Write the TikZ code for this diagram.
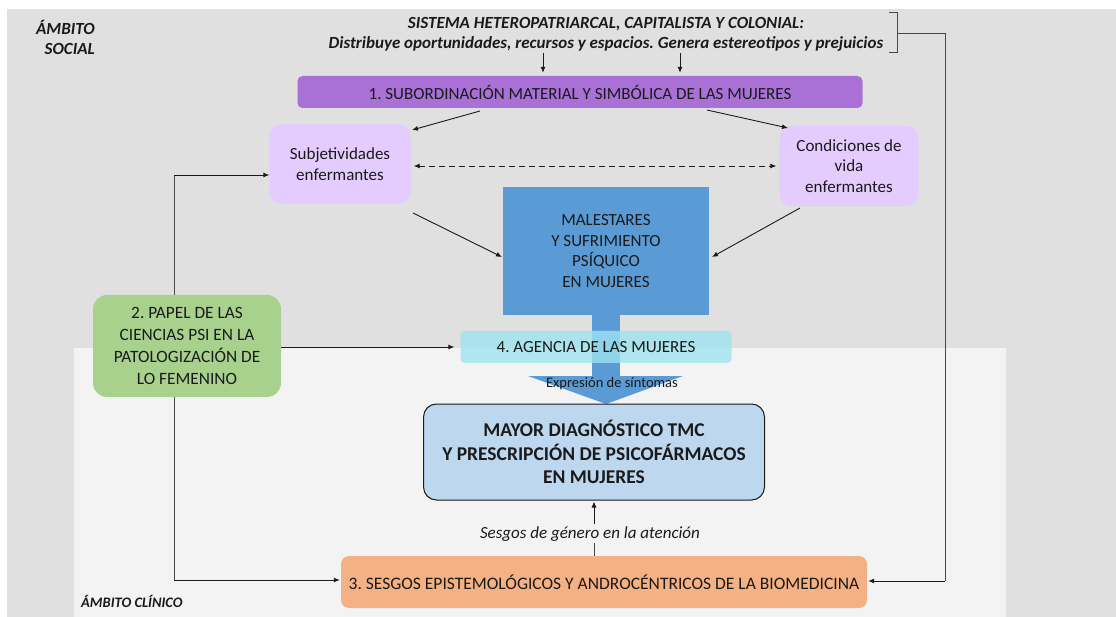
\documentclass[tikz,border=0pt]{standalone}
\usepackage{fontspec}
\setmainfont{Carlito}
\usetikzlibrary{arrows.meta,calc}
\definecolor{bgsoc}{HTML}{E0E0E0}
\definecolor{bgcli}{HTML}{F3F3F3}
\definecolor{cpurple}{HTML}{A970D6}
\definecolor{clav}{HTML}{E5CCFF}
\definecolor{cblue}{HTML}{5B9BD5}
\definecolor{ccyan}{HTML}{9EE3EE}
\definecolor{cgreen}{HTML}{A9D18E}
\definecolor{clblue}{HTML}{BDD7EE}
\definecolor{corange}{HTML}{F4B183}
\definecolor{ink}{HTML}{1A1A1A}
\tikzset{
  box/.style={inner sep=0pt, align=center, text=ink},
  arr/.style={draw=ink, line width=0.9pt, -{Latex[length=6pt,width=5pt]}},
  ln/.style={draw=ink!80, line width=0.8pt},
}
\begin{document}
\frenchspacing
\begin{tikzpicture}[x=1pt,y=-1pt]
\useasboundingbox (0,0) rectangle (1116,617);
\fill[white] (0,0) rectangle (1116,617);
\fill[bgsoc] (7,9) rectangle (1116,617);
\fill[bgcli] (74,348) rectangle (1006,617);

% labels of areas
\node[box, align=right, anchor=east, font=\fontsize{17}{20}\selectfont\bfseries\itshape] (soc) at (95,37) {ÁMBITO\\SOCIAL};
\node[box, anchor=west, font=\fontsize{14.5}{16}\selectfont\bfseries\itshape] (cli) at (81,601) {ÁMBITO CLÍNICO};

% top text
\node[box, font=\fontsize{17}{20}\selectfont\bfseries\itshape] (sys) at (606,34) {SISTEMA HETEROPATRIARCAL, CAPITALISTA Y COLONIAL:\\Distribuye oportunidades, recursos y espacios. Genera estereotipos y prejuicios};
\draw[ln] (889,12) -- (897,12) -- (897,52) -- (889,52);
\coordinate (br) at (897,33);

% nodes
\node[box, fill=cpurple, rounded corners=5pt, minimum width=565pt, minimum height=32pt, font=\fontsize{17}{20}\selectfont] (sub) at (580,92) {1. SUBORDINACIÓN MATERIAL Y SIMBÓLICA DE LAS MUJERES};
\node[box, fill=clav, rounded corners=12pt, minimum width=141pt, minimum height=80pt, font=\fontsize{17}{21}\selectfont] (subj) at (340,164) {Subjetividades\\enfermantes};
\node[box, fill=clav, rounded corners=12pt, minimum width=139pt, minimum height=80pt, font=\fontsize{17}{20.5}\selectfont] (cond) at (849,166) {Condiciones de\\vida\\enfermantes};

% big arrow stem and head
\fill[cblue] (503,187) rectangle (709,315);
\fill[cblue] (592,314) rectangle (620,377);
\fill[cblue] (528,376) -- (683,376) -- (606,404) -- cycle;
\node[box, font=\fontsize{17}{20.5}\selectfont] (male) at (606,251) {MALESTARES\\Y SUFRIMIENTO\\PSÍQUICO\\EN MUJERES};
\node[box, fill=ccyan, fill opacity=0.8, text opacity=1, rounded corners=4pt, minimum width=271pt, minimum height=32pt, font=\fontsize{17}{20}\selectfont] (age) at (596,347) {4. AGENCIA DE LAS MUJERES};
\node[box, font=\fontsize{14.5}{16}\selectfont] (expr) at (612,384) {Expresión de síntomas};

\node[box, fill=clblue, draw=ink, line width=1pt, rounded corners=13pt, minimum width=341pt, minimum height=96pt, font=\fontsize{19.5}{23.5}\selectfont\bfseries] (diag) at (594,452) {MAYOR DIAGNÓSTICO TMC\\Y PRESCRIPCIÓN DE PSICOFÁRMACOS\\EN MUJERES};

\node[box, font=\fontsize{17}{20}\selectfont\itshape] (ses) at (590,534) {Sesgos de género en la atención};
\node[box, fill=corange, rounded corners=8pt, minimum width=526pt, minimum height=52pt, font=\fontsize{17.5}{20}\selectfont] (ori) at (604,582) {3. SESGOS EPISTEMOLÓGICOS Y ANDROCÉNTRICOS DE LA BIOMEDICINA};

% left connector (drawn before green box)
\coordinate (lt) at (174,175);
\coordinate (lb) at (174,580);
\draw[ln] (lt) -- (lb);
\draw[arr] (lt) -- (subj.west |- lt);
\draw[arr] (lb) -- ($(ori.west |- lb)+(-1,0)$);

\node[box, fill=cgreen, rounded corners=14pt, minimum width=188pt, minimum height=102pt, font=\fontsize{17.3}{22}\selectfont] (psi) at (187,346) {2. PAPEL DE LAS\\CIENCIAS PSI EN LA\\PATOLOGIZACIÓN DE\\LO FEMENINO};

% connectors
\coordinate (a1) at (543,0);
\coordinate (a2) at (680,0);
\draw[arr] ($(sys.south -| a1)+(0,2)$) -- ($(sub.north -| a1)+(0,-3)$);
\draw[arr] ($(sys.south -| a2)+(0,2)$) -- ($(sub.north -| a2)+(0,-3)$);

\coordinate (s1) at (480,111);
\coordinate (s2) at (707,110);
\draw[arr] (s1) -- (412,130);
\draw[arr] (s2) -- (788,128);
\draw[arr, dashed, dash pattern=on 6pt off 4pt, {Latex[length=6pt,width=5pt]}-{Latex[length=6pt,width=5pt]}] (subj.east |- 0,166) ++(3,0) -- ($(cond.west |- 0,166)+(-3,0)$);

\draw[arr] (413,213) -- (502,257);
\draw[arr] (800,208) -- (712,257);

\draw[arr] (psi.east |- 0,347) -- ($(age.west |- 0,347)+(-6,0)$);

\coordinate (vx) at (594,0);
\draw[ln] (ori.north -| vx) -- ($(ses.south -| vx)+(0,1)$);
\draw[arr] ($(ses.north -| vx)+(0,-2)$) -- ($(diag.south -| vx)+(0,1)$);

\draw[ln] (br) -- (945,33) -- (945,581);
\draw[arr] (945,581) -- ($(ori.east |- 0,581)+(1,0)$);
\end{tikzpicture}
\end{document}
